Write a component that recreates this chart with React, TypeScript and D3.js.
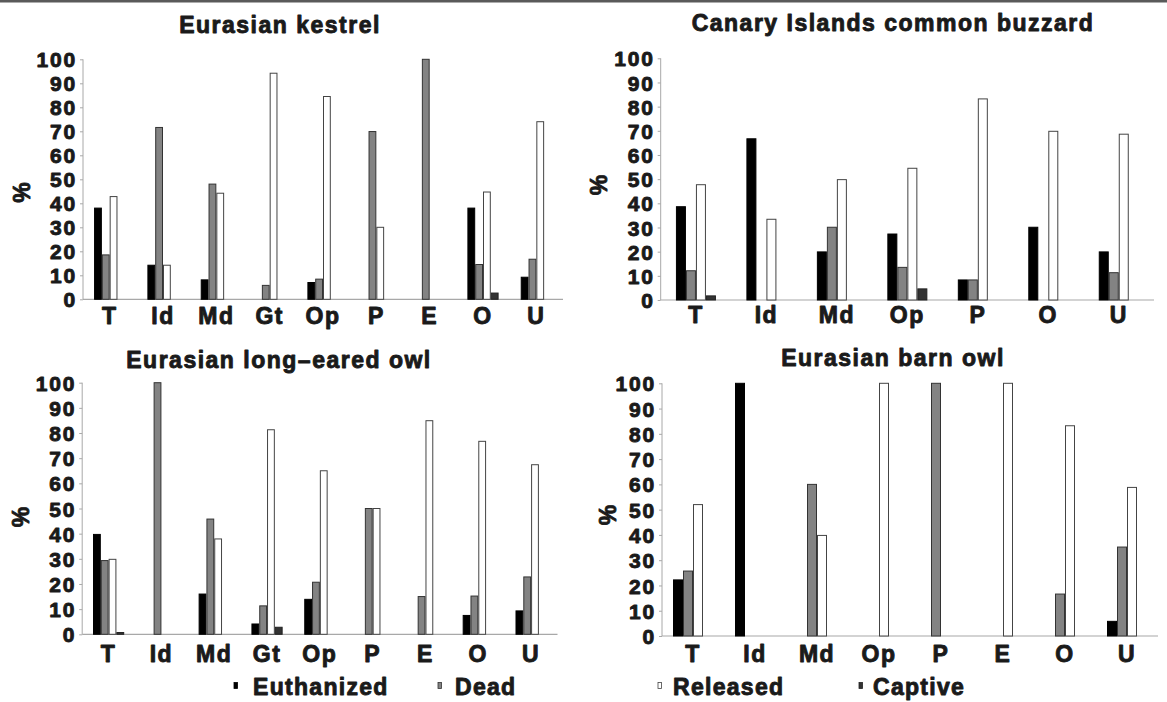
import * as d3 from "d3";
import {useEffect, useRef} from "react";

const seriesNames = ["Euthanized", "Dead", "Released", "Captive"];
const yTicks = [0, 10, 20, 30, 40, 50, 60, 70, 80, 90, 100];

// Eurasian kestrel
const kestrelCats = ["T", "Id", "Md", "Gt", "Op", "P", "E", "O", "U"];
const kestrelEuthanized = [38, 14.2, 8.1, 0, 7, 0, 0, 38, 9.2];
const kestrelDead = [18.5, 71.6, 48, 5.8, 8.4, 69.9, 100, 14.5, 16.7];
const kestrelReleased = [42.8, 14.2, 44.2, 94.2, 84.5, 30, 0, 44.7, 74];
const kestrelCaptive = [0, 0, 0, 0, 0, 0, 0, 2.6, 0];

// Canary Islands common buzzard
const buzzardCats = ["T", "Id", "Md", "Op", "P", "O", "U"];
const buzzardEuthanized = [38.6, 66.7, 19.9, 27.3, 8.3, 30.1, 19.9];
const buzzardDead = [12.1, 0, 30.1, 13.5, 8.3, 0, 11.3];
const buzzardReleased = [47.7, 33.4, 49.8, 54.5, 83.2, 69.8, 68.6];
const buzzardCaptive = [1.7, 0, 0, 4.6, 0, 0, 0];

// Eurasian long-eared owl
const longEaredCats = ["T", "Id", "Md", "Gt", "Op", "P", "E", "O", "U"];
const longEaredEuthanized = [39.7, 0, 16, 4.1, 13.9, 0, 0, 7.5, 9.3];
const longEaredDead = [29.3, 100, 45.8, 11.3, 20.7, 50, 15, 15.2, 22.8];
const longEaredReleased = [29.8, 0, 37.9, 81.3, 65, 50, 84.9, 76.7, 67.4];
const longEaredCaptive = [0.7, 0, 0, 2.8, 0, 0, 0, 0, 0];

// Eurasian barn owl
const barnCats = ["T", "Id", "Md", "Op", "P", "E", "O", "U"];
const barnEuthanized = [22.2, 100, 0, 0, 0, 0, 0, 5.8];
const barnDead = [25.7, 0, 60, 0, 100, 0, 16.6, 35.2];
const barnReleased = [52, 0, 39.8, 100, 0, 100, 83.2, 58.8];
const barnCaptive = [0, 0, 0, 0, 0, 0, 0, 0];

const fills = ["#000000", "#838383", "#ffffff", "#333333"];
const strokes = ["#000000", "#333333", "#444444", "#222222"];

const panels = [
    {title: "Eurasian kestrel", cats: kestrelCats,
        values: [kestrelEuthanized, kestrelDead, kestrelReleased, kestrelCaptive],
        xr: [83, 563], yr: [299.3, 59.3], barW: 7.8, titleX: 280, titleY: 33, pct: [21.5, 192.5], labY: 324},
    {title: "Canary Islands common buzzard", cats: buzzardCats,
        values: [buzzardEuthanized, buzzardDead, buzzardReleased, buzzardCaptive],
        xr: [660.7, 1154], yr: [300, 58.3], barW: 10, titleX: 893, titleY: 31, pct: [599, 185], labY: 323},
    {title: "Eurasian long\u2013eared owl", cats: longEaredCats,
        values: [longEaredEuthanized, longEaredDead, longEaredReleased, longEaredCaptive],
        xr: [82.2, 557.5], yr: [634.3, 382.7], barW: 7.8, titleX: 279, titleY: 367.5, pct: [20.5, 517], labY: 661.5},
    {title: "Eurasian barn owl", cats: barnCats,
        values: [barnEuthanized, barnDead, barnReleased, barnCaptive],
        xr: [662, 1158], yr: [636, 383.3], barW: 10, titleX: 893, titleY: 365.5, pct: [608, 515], labY: 661.5},
];

const legendItems = [
    {marker: 234, text: 253},
    {marker: 438, text: 455},
    {marker: 658, text: 673},
    {marker: 859, text: 873},
];

const FONT = "'Liberation Sans', Arial, sans-serif";
const INK = "#1a1a1a";

const heavy = (sel, size, spacing) =>
    sel.attr("fill", INK)
        .attr("stroke", INK)
        .attr("stroke-width", 0.9)
        .attr("stroke-linejoin", "round")
        .style("font-family", FONT)
        .style("font-weight", "bold")
        .style("font-size", size + "px")
        .style("letter-spacing", spacing + "px");

const useD3 = (renderChartFn, dependencies) => {
    const ref = useRef(null);
    useEffect(() => {
        renderChartFn(d3.select(ref.current));
        return () => {};
    }, dependencies);
    return ref;
};

const App = () => {
    const ref = useD3((svg) => {
        svg.selectAll("*").remove();

        svg.append("rect")
            .attr("x", 0).attr("y", 0)
            .attr("width", 1167).attr("height", 2.5)
            .attr("fill", "#5a5a5a");

        panels.forEach((p) => {
            const g = svg.append("g");
            const x0 = d3.scaleBand().domain(p.cats).range(p.xr);
            const x1 = d3.scaleBand().domain(seriesNames).range([0, p.barW * 4]);
            const y = d3.scaleLinear().domain([0, 100]).range(p.yr);
            const groupOff = (x0.bandwidth() - p.barW * 4) / 2;

            // title
            heavy(g.append("text")
                .attr("x", p.titleX).attr("y", p.titleY)
                .attr("text-anchor", "middle"), 23, 1.5)
                .text(p.title);

            // y axis
            const yAxis = g.append("g").attr("transform", `translate(${p.xr[0]},0)`)
                .call(d3.axisLeft(y).tickValues(yTicks).tickSize(3).tickPadding(3));
            yAxis.select(".domain").attr("stroke", "#a8a8a8").attr("d", `M0,${p.yr[0]}V${p.yr[1]}`);
            yAxis.selectAll(".tick line").attr("stroke", "#a8a8a8");
            heavy(yAxis.selectAll(".tick text"), 21, 1.8)
                .attr("dy", "0.36em");

            // x axis line
            g.append("line")
                .attr("x1", p.xr[0]).attr("x2", p.xr[1])
                .attr("y1", y(0)).attr("y2", y(0))
                .attr("stroke", "#a8a8a8").attr("stroke-width", 1.2);

            // bars
            p.cats.forEach((c, i) => {
                seriesNames.forEach((s, k) => {
                    const v = p.values[k][i];
                    if (!v) return;
                    g.append("rect")
                        .attr("x", x0(c) + groupOff + x1(s) + 0.5)
                        .attr("y", y(v))
                        .attr("width", x1.bandwidth() - 1)
                        .attr("height", y(0) - y(v))
                        .attr("fill", fills[k])
                        .attr("stroke", strokes[k])
                        .attr("stroke-width", 1);
                });
            });

            // category labels
            heavy(g.selectAll(".cat")
                .data(p.cats)
                .enter()
                .append("text")
                .attr("x", (d) => x0(d) + x0.bandwidth() / 2)
                .attr("y", p.labY)
                .attr("text-anchor", "middle"), 23, 1.5)
                .text((d) => d);

            // % label
            heavy(g.append("text")
                .attr("transform", `translate(${p.pct[0] + 8},${p.pct[1]}) rotate(-90)`)
                .attr("text-anchor", "middle"), 23, 0)
                .text("%");
        });

        // legend
        legendItems.forEach((l, k) => {
            svg.append("rect")
                .attr("x", l.marker).attr("y", 682.5)
                .attr("width", 3.5).attr("height", 6)
                .attr("fill", fills[k])
                .attr("stroke", strokes[k]).attr("stroke-width", 0.8);
            heavy(svg.append("text")
                .attr("x", l.text).attr("y", 694.5), 23, 1.3)
                .text(seriesNames[k]);
        });
    }, []);

    return (
        <svg
            ref={ref}
            width={1167}
            height={702}
            style={{position: "absolute", left: 0, top: 0, background: "#ffffff", display: "block"}}
        />
    );
};

export default App;
